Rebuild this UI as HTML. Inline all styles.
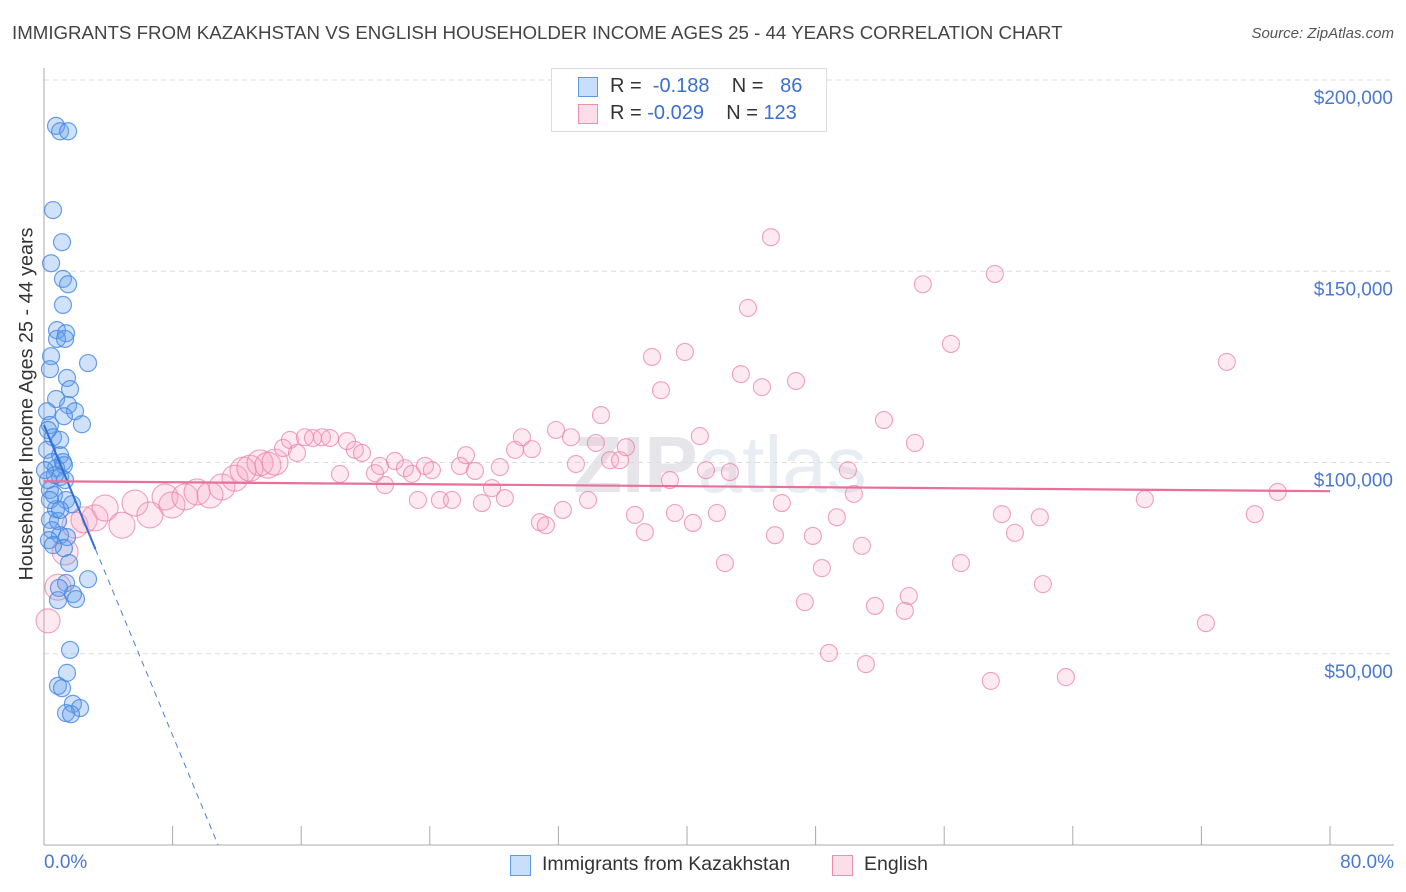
<!DOCTYPE html>
<html><head><meta charset="utf-8"><style>
body{margin:0;background:#fff;font-family:"Liberation Sans",sans-serif;}
#wrap{position:relative;width:1406px;height:892px;overflow:hidden;}
.t{position:absolute;white-space:nowrap;}
</style></head><body>
<div id="wrap">
<div class="t" style="left:12px;top:22px;font-size:18.7px;color:#444;">IMMIGRANTS FROM KAZAKHSTAN VS ENGLISH HOUSEHOLDER INCOME AGES 25 - 44 YEARS CORRELATION CHART</div>
<div class="t" style="right:12px;top:25px;font-size:15px;color:#555;font-style:italic;">Source: ZipAtlas.com</div>
<svg id="chart" width="1406" height="892" style="position:absolute;left:0;top:0"></svg>
</div>
<script>
const xTicksPct=[0,8,16,24,32,40,48,56,64,72,80];
const yTicks=[50000,100000,150000,200000];
const yTickLabels=["$50,000","$100,000","$150,000","$200,000"];
const blueX=[0.75,1.0,1.5,0.56,1.12,0.44,1.18,1.5,1.18,0.81,1.37,0.81,1.31,2.74,0.44,1.43,1.62,0.37,0.75,1.5,1.93,1.24,2.36,0.19,0.37,0.56,1.0,0.19,1.0,1.18,0.5,0.75,1.24,1.0,1.31,0.37,0.62,1.37,0.75,1.74,0.37,0.87,0.5,1.0,1.43,0.31,1.24,1.56,2.74,1.37,0.93,1.8,1.99,0.87,1.62,1.43,0.87,1.12,1.8,2.24,1.37,1.68,0.25,0.37,0.68,1.0,0.56,0.06,0.25];
const blueY=[188.0,186.6,186.6,166.0,157.6,152.1,148.0,146.6,141.2,134.6,133.8,132.3,132.3,126.0,127.8,122.1,119.2,124.4,116.6,115.0,113.4,112.1,110.0,113.4,109.8,106.6,105.9,103.3,101.9,100.1,100.1,98.5,99.3,96.2,95.4,92.8,91.5,90.2,87.8,89.1,85.0,84.7,82.3,81.0,80.5,79.7,77.6,73.7,69.5,68.5,67.2,65.6,64.3,64.0,51.0,45.0,41.6,41.0,36.9,35.8,34.5,34.2,95.4,90.2,96.7,87.6,78.4,98.0,108.5];
const pinkX=[0.25,0.87,1.31,1.93,2.49,3.17,3.8,4.85,5.66,6.59,7.53,7.96,8.77,9.52,10.33,11.07,11.88,12.38,12.81,13.44,13.93,14.37,14.87,15.3,15.74,16.23,16.73,17.29,17.79,18.41,18.85,19.34,19.78,20.59,20.9,21.21,21.83,22.45,22.89,23.26,23.7,24.13,24.63,25.38,25.88,26.25,26.81,27.24,27.87,28.36,28.67,29.3,29.73,30.35,30.85,31.22,31.85,32.28,32.78,33.09,33.84,34.33,34.65,35.21,35.83,36.2,36.76,37.38,37.82,38.38,38.94,39.25,39.87,40.37,40.8,41.18,41.86,42.36,42.67,43.35,43.79,44.66,45.22,45.47,45.9,46.78,47.33,47.83,48.39,48.83,49.32,50.01,50.38,50.88,51.13,51.69,52.25,53.55,53.8,54.18,54.67,56.42,57.04,58.9,59.15,59.59,60.4,61.95,62.14,63.57,68.48,72.28,73.58,75.32,76.75];
const pinkY=[58.6,67.4,76.6,83.6,85.0,85.5,88.1,83.6,89.4,86.3,91.0,88.9,91.0,92.3,91.5,93.6,95.9,98.0,98.5,99.9,99.3,100.1,103.8,105.9,102.5,106.6,106.4,106.6,106.4,97.0,105.6,103.3,102.5,97.2,99.1,94.1,100.4,98.5,97.0,90.2,99.1,98.0,90.2,90.2,99.1,101.9,97.8,89.4,93.3,98.8,90.7,103.3,106.6,103.5,84.4,83.6,108.5,87.6,106.6,99.6,90.2,105.1,112.4,100.6,100.6,104.0,86.3,81.8,127.6,118.9,95.4,86.8,128.9,84.2,106.9,98.0,86.8,73.7,97.5,123.1,140.4,119.7,158.9,81.0,89.4,121.3,63.5,80.8,72.4,50.2,85.7,98.0,91.8,78.2,47.3,62.5,111.1,61.2,65.1,105.1,146.6,131.0,73.7,42.9,149.3,86.5,81.6,85.7,68.2,43.9,90.4,58.0,126.3,86.5,92.3];
const blueTrend=[109.8,-10.14];
const pinkTrend=[95.1,-0.0325];

const NS="http://www.w3.org/2000/svg";
const svg=document.getElementById('chart');
const X0=44,X1=1330,Y0=845,YTOP=80;
const xs=p=>X0+p/80*(X1-X0);
const ys=v=>Y0-(v/200000)*(Y0-YTOP);
function mk(tag,attrs,parent){const e=document.createElementNS(NS,tag);for(const k in attrs)e.setAttribute(k,attrs[k]);(parent||svg).appendChild(e);return e;}

let wm=mk('text',{x:720,y:492,'text-anchor':'middle','font-size':'80','font-family':'Liberation Sans, sans-serif',fill:'#e8ecf3'});


wm.innerHTML='<tspan font-weight="bold" fill="#e6e6ea">ZIP</tspan>atlas';

yTicks.forEach((v,i)=>{
  let g=mk('line',{x1:X0,x2:1394,y1:ys(v),y2:ys(v),stroke:'#dddddd','stroke-dasharray':'5,4'});
  
  
  let t=mk('text',{x:1393,y:ys(v)+24,'text-anchor':'end','font-size':'19',fill:'#4a78d0','font-family':'Liberation Sans, sans-serif'});
  
  
  t.textContent=yTickLabels[i];
});
let ax=mk('line',{x1:X0,x2:X0,y1:68,y2:Y0,stroke:'#aaa'});


let bx=mk('line',{x1:X0,x2:1394,y1:Y0,y2:Y0,stroke:'#aaa'});


xTicksPct.forEach(p=>{
  let l=mk('line',{x1:xs(p),x2:xs(p),y1:826,y2:Y0,stroke:'#aaa'});
  
  
});

pinkX.forEach((p,i)=>{
  const r=i<22?(i===0?12:13):8.5;
  let c=mk('circle',{cx:xs(p),cy:ys(pinkY[i]*1000),r:r,fill:'rgba(244,160,190,0.22)',stroke:'rgba(236,130,168,0.75)','stroke-width':1.1});
  
  
});
blueX.forEach((p,i)=>{
  let c=mk('circle',{cx:xs(p),cy:ys(blueY[i]*1000),r:8.5,fill:'rgba(100,160,240,0.3)',stroke:'rgba(70,135,225,0.8)','stroke-width':1.2});
  
  
});
const bv=p=>(blueTrend[0]+blueTrend[1]*p)*1000;
let bt=mk('line',{x1:xs(0),y1:ys(bv(0)),x2:xs(3.2),y2:ys(bv(3.2)),stroke:'#2f6fd6','stroke-width':2});


const pEnd=-blueTrend[0]/blueTrend[1];
let bd=mk('line',{x1:xs(3.2),y1:ys(bv(3.2)),x2:xs(pEnd),y2:ys(0),stroke:'#4a7fd6','stroke-width':1,'stroke-dasharray':'6,5'});


const pv=p=>(pinkTrend[0]+pinkTrend[1]*p)*1000;
let pt=mk('line',{x1:xs(0),y1:ys(pv(0)),x2:xs(80),y2:ys(pv(80)),stroke:'#e8709a','stroke-width':2.2});


</script>
<div class="t" style="left:-98px;top:444px;width:250px;text-align:center;font-size:19.8px;color:#333;transform:rotate(-90deg);">Householder Income Ages 25 - 44 years</div>
<div class="t" style="left:44px;top:852px;font-size:19px;color:#4a78d0;">0.0%</div>
<div class="t" style="right:12px;top:852px;font-size:19px;color:#4a78d0;">80.0%</div>
<div style="position:absolute;left:551px;top:68px;width:274px;height:62px;border:1px solid #ddd;background:#fff;font-size:20px;">
 <div style="position:absolute;left:26px;top:8px;width:18px;height:18px;background:rgba(100,160,240,0.35);border:1px solid #5b9be8;"></div>
 <div class="t" style="left:58px;top:6px;color:#333;">R = <span style="color:#3a6fd0">&nbsp;-0.188</span>&nbsp;&nbsp;&nbsp; N = <span style="color:#3a6fd0">&nbsp;&nbsp;86</span></div>
 <div style="position:absolute;left:26px;top:35px;width:18px;height:18px;background:rgba(244,160,190,0.35);border:1px solid #ee8fb0;"></div>
 <div class="t" style="left:58px;top:33px;color:#333;">R = <span style="color:#3a6fd0">-0.029</span>&nbsp;&nbsp;&nbsp; N = <span style="color:#3a6fd0">123</span></div>
</div>
<div style="position:absolute;left:510px;top:853px;font-size:19.5px;color:#333;">
 <div style="position:absolute;left:0;top:0;width:300px;">
  <div style="position:absolute;left:0;top:2px;width:19px;height:19px;background:rgba(100,160,240,0.35);border:1px solid #5b9be8;"></div>
  <div class="t" style="left:32px;top:0;">Immigrants from Kazakhstan</div></div>
 <div style="position:absolute;left:322px;top:0;width:120px;">
  <div style="position:absolute;left:0;top:2px;width:19px;height:19px;background:rgba(244,160,190,0.35);border:1px solid #ee8fb0;"></div>
  <div class="t" style="left:32px;top:0;">English</div></div>
</div>
</body></html>
